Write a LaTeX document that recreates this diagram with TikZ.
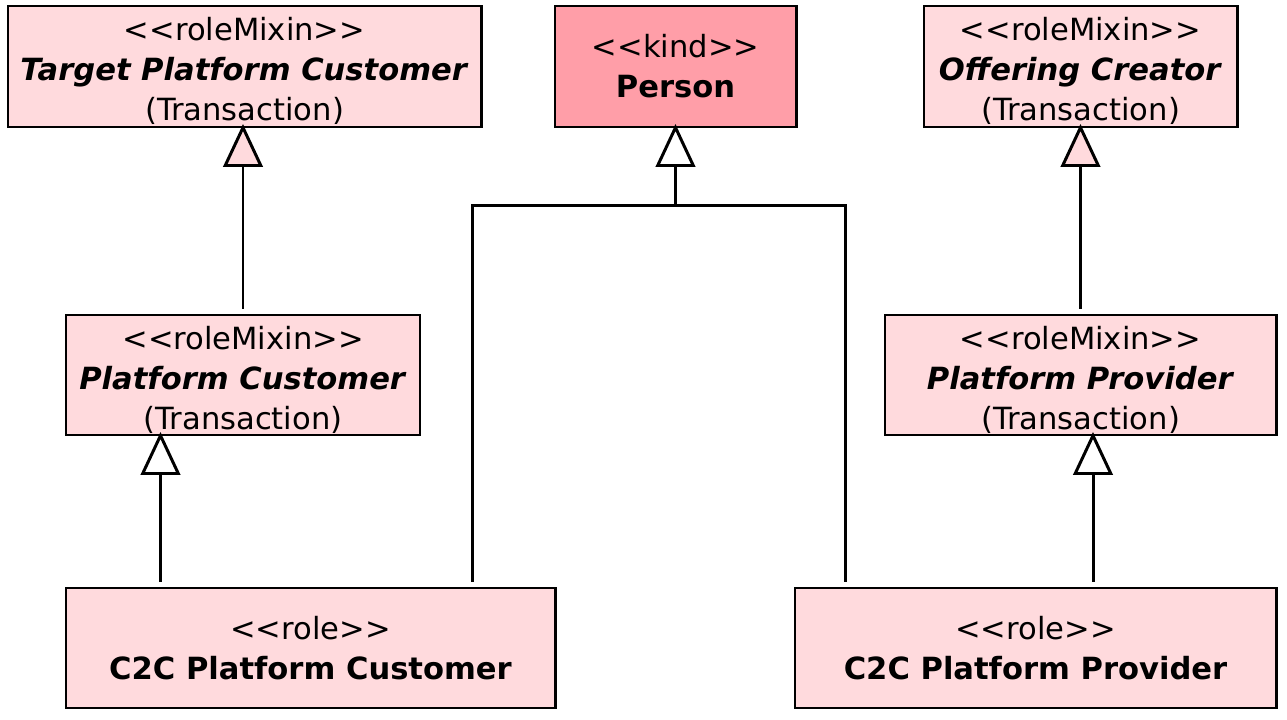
\documentclass[tikz,border=0pt]{standalone}
\usepackage{fontspec}
\newfontfamily\umlfont{DejaVu Sans}
\usetikzlibrary{arrows.meta}
\definecolor{mixinpink}{RGB}{255,218,221}
\definecolor{kindpink}{RGB}{255,158,168}
% strut that pushes three-line labels a little down
\newcommand{\lowstrut}{\rule{0pt}{18.4pt}}
\tikzset{
  umlbox/.style={draw=black, line width=1.7pt, fill=mixinpink, inner sep=0pt,
    align=center, minimum height=24mm,
    font=\umlfont\fontsize{17.4pt}{22.7pt}\selectfont},
  kindbox/.style={umlbox, fill=kindpink},
  gen/.style={line width=1.7pt, shorten <=1mm, shorten >=-0.9mm,
    -{Triangle[length=8.6mm, width=7.9mm, fill=white, line width=1.7pt]}},
  genmixin/.style={gen,
    -{Triangle[length=8.6mm, width=7.9mm, fill=mixinpink, line width=1.7pt]}},
}
\begin{document}
\begin{tikzpicture}[x=0.2mm, y=-0.2mm]
    \useasboundingbox (0,0) rectangle (1287,720);
    % Top row
    \node[umlbox, minimum width=94.6mm, minimum height=24.2mm] (tpc) at (244.5,66.5)
        {\lowstrut<<roleMixin>>\\ \textbf{\textit{Target Platform Customer}}\\ (Transaction)};
    \node[kindbox, minimum width=48.2mm, minimum height=24.2mm] (person) at (675.5,66.5)
        {<<kind>>\\ \textbf{Person}};
    \node[umlbox, minimum width=62.6mm, minimum height=24.2mm] (oc) at (1080.5,66.5)
        {\lowstrut<<roleMixin>>\\ \textbf{\textit{Offering Creator}}\\ (Transaction)};
    % Middle row
    \node[umlbox, minimum width=70.8mm] (pc) at (243,375)
        {\lowstrut<<roleMixin>>\\ \textbf{\textit{Platform Customer}}\\ (Transaction)};
    \node[umlbox, minimum width=78.2mm] (pp) at (1080.5,375)
        {\lowstrut<<roleMixin>>\\ \textbf{\textit{Platform Provider}}\\ (Transaction)};
    % Bottom row
    \node[umlbox, minimum width=97.8mm] (cpc) at (310.5,648)
        {<<role>>\\ \textbf{C2C Platform Customer}};
    \node[umlbox, minimum width=96.2mm] (cpp) at (1035.5,648)
        {<<role>>\\ \textbf{C2C Platform Provider}};
    % Generalizations
    \draw[genmixin] (pc.north) -- (pc.north |- tpc.south);
    \draw[genmixin] (pp.north) -- (pp.north |- oc.south);
    \draw[gen] ([xshift=19.2mm]cpc.north west) -- ([xshift=19.2mm]cpc.north west |- pc.south);
    \draw[gen] ([xshift=2.5mm]pp.south |- cpp.north) -- ([xshift=2.5mm]pp.south);
    % Generalization set to Person
    \coordinate (join) at ([yshift=-15.4mm]person.south);
    \draw[line width=1.7pt, shorten <=1mm] ([xshift=10.4mm]cpp.north west) |- (join);
    \draw[gen] ([xshift=-16.8mm]cpc.north east) |- (join) -- (person.south);
\end{tikzpicture}
\end{document}
